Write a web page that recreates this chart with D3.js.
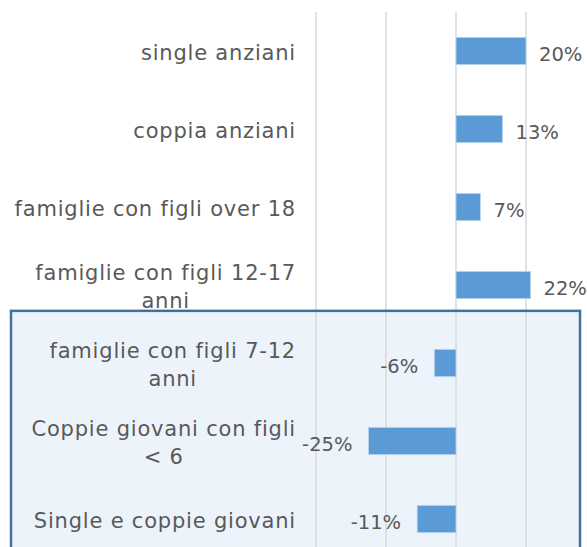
<!DOCTYPE html>
<html>
<head>
<meta charset="utf-8">
<script src="https://cdn.jsdelivr.net/npm/d3@7"></script>
<style>
  body { margin: 0; background: #fff; }
  svg text { font-family: "DejaVu Sans", sans-serif; fill: #595959; }
</style>
</head>
<body>
<div id="chart"></div>
<script>
// categories, top to bottom, with their label lines
var categories = [
    "single anziani",
    "coppia anziani",
    "famiglie con figli over 18",
    "famiglie con figli 12-17 anni",
    "famiglie con figli 7-12 anni",
    "Coppie giovani con figli < 6",
    "Single e coppie giovani"
];
var labelLines = [
    ["single anziani"],
    ["coppia anziani"],
    ["famiglie con figli over 18"],
    ["famiglie con figli 12-17", "anni"],
    ["famiglie con figli 7-12", "anni"],
    ["Coppie giovani con figli", "< 6"],
    ["Single e coppie giovani"]
];
var values = [0.20, 0.133, 0.07, 0.213, -0.062, -0.25, -0.111];
var valueLabels = ["20%", "13%", "7%", "22%", "-6%", "-25%", "-11%"];
var gridTicks = [-0.4, -0.2, 0, 0.2, 0.4];
var highlighted = categories.slice(4);

var w = 587;
var h = 547;
var fontSize = 21;
var valueFontSize = 19.5;

var svg = d3.select("#chart")
            .append("svg")
            .attr("width", w)
            .attr("height", h);

var x = d3.scaleLinear()
          .domain([-0.4, 0.4])
          .range([316, 596]);

var y = d3.scaleBand()
          .domain(categories)
          .range([12, 558])
          .paddingInner(0.65)
          .paddingOuter(0.325);

// highlight box behind the last three rows
var boxTop = y(highlighted[0]) - 38.5;
svg.append("rect")
   .attr("x", 11)
   .attr("y", boxTop)
   .attr("width", 569)
   .attr("height", 300)
   .attr("fill", "#edf3fb");

svg.selectAll("line.grid")
   .data(gridTicks)
   .enter()
   .append("line")
   .attr("class", "grid")
   .attr("x1", function (d) { return x(d); })
   .attr("x2", function (d) { return x(d); })
   .attr("y1", 12)
   .attr("y2", 558)
   .attr("stroke", "#d9d9d9")
   .attr("stroke-width", 1.5);

svg.selectAll("rect.bar")
   .data(values)
   .enter()
   .append("rect")
   .attr("class", "bar")
   .attr("x", function (d) { return x(Math.min(0, d)); })
   .attr("y", function (d, i) { return y(categories[i]); })
   .attr("width", function (d) { return Math.abs(x(d) - x(0)); })
   .attr("height", y.bandwidth())
   .attr("fill", "#5b9bd5")
   .attr("stroke", "#bdd7ee")
   .attr("stroke-width", 0.8);

svg.selectAll("text.value")
   .data(values)
   .enter()
   .append("text")
   .attr("class", "value")
   .attr("x", function (d) { return d >= 0 ? x(d) + 13 : x(d) - 16; })
   .attr("y", function (d, i) { return y(categories[i]) + y.bandwidth() / 2; })
   .attr("dy", "0.5em")
   .attr("text-anchor", function (d) { return d >= 0 ? "start" : "end"; })
   .style("font-size", valueFontSize + "px")
   .text(function (d, i) { return valueLabels[i]; });

// category labels, wrapped lines centred on each other, block right aligned
var lineH = 28;
var labels = svg.selectAll("g.label")
                .data(labelLines)
                .enter()
                .append("g")
                .attr("class", "label");

labels.each(function (lines, i) {
    var g = d3.select(this);
    var cy = y(categories[i]) + y.bandwidth() / 2;
    var texts = lines.map(function (s, j) {
        return g.append("text")
                .attr("y", cy + (j - (lines.length - 1) / 2) * lineH)
                .attr("dy", "0.42em")
                .attr("text-anchor", "middle")
                .style("font-size", fontSize + "px")
                .style("letter-spacing", "0.8px")
                .text(s);
    });
    var widest = d3.max(texts, function (t) { return t.node().getComputedTextLength(); });
    var cx = 296 - widest / 2;
    texts.forEach(function (t) { t.attr("x", cx); });
});

svg.append("rect")
   .attr("x", 11)
   .attr("y", boxTop)
   .attr("width", 569)
   .attr("height", 300)
   .attr("fill", "none")
   .attr("stroke", "#41719c")
   .attr("stroke-width", 2.5);
</script>
</body>
</html>
